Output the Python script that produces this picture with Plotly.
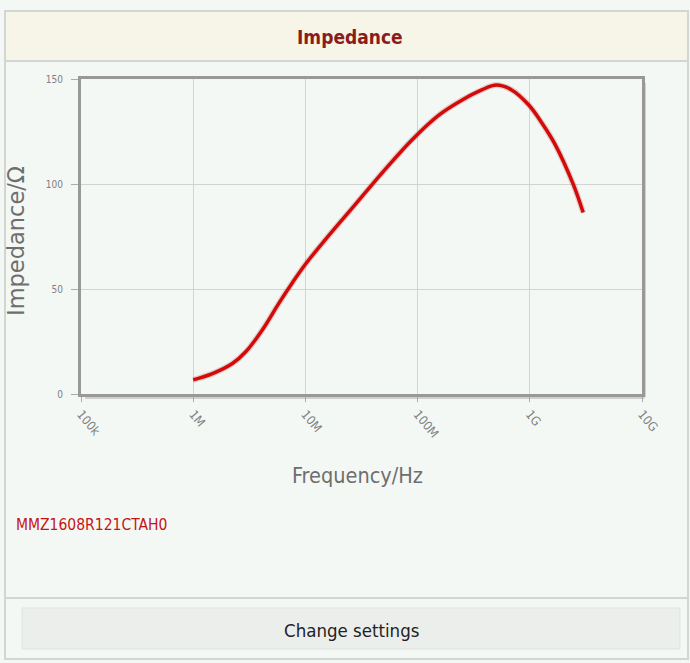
import plotly.graph_objects as go

# ---- data ----
freq_hz = [1.000e6, 1.485e6, 2.236e6, 2.940e6, 4.130e6, 5.812e6, 7.633e6, 1.004e7,
           1.512e7, 2.277e7, 3.429e7, 5.163e7, 8.900e7, 1.537e8, 2.476e8, 3.729e8,
           5.038e8, 6.890e8, 9.838e8, 1.273e9, 1.675e9, 2.436e9, 2.990e9]
impedance_ohm = [6.7, 9.7, 14.5, 20.1, 30.5, 43.3, 52.9, 61.9,
                 73.6, 84.8, 96.0, 107.1, 121.0, 132.7, 139.9, 144.8,
                 147.1, 144.8, 137.5, 129.3, 119.0, 99.9, 86.4]
x_tickvals = [1e5, 1e6, 1e7, 1e8, 1e9, 1e10]
x_ticktext = ["100k", "1M", "10M", "100M", "1G", "10G"]
y_tickvals = [0, 50, 100, 150]
part_name = "MMZ1608R121CTAH0"
chart_title = "Impedance"

# ---- layout geometry (pixels) ----
WIDTH, HEIGHT = 690, 663
L, R, T, B = 81, 48, 79, 269
W = WIDTH - L - R
H = HEIGHT - T - B


def px(x):
    return (x - L) / W


def py(y):
    return (HEIGHT - B - y) / H


PAGE_BG = "#f4f8f4"
PLOT_BG = "#f6f9f5"
COND = "DejaVu Sans Condensed, sans-serif"

fig = go.Figure()

# faint halo under the line
fig.add_trace(go.Scatter(
    x=freq_hz, y=impedance_ohm, mode="lines",
    line=dict(color="rgba(120,0,0,0.16)", width=6, shape="spline", smoothing=1.0),
    hoverinfo="skip", showlegend=False,
))
fig.add_trace(go.Scatter(
    x=freq_hz, y=impedance_ohm, mode="lines",
    line=dict(color="#d40a0a", width=3.5, shape="spline", smoothing=1.0),
    showlegend=False,
))

shapes = []
# page background
shapes.append(dict(type="rect", xref="paper", yref="paper",
                   x0=px(0), x1=px(WIDTH), y0=py(HEIGHT), y1=py(0),
                   line=dict(width=0), fillcolor=PAGE_BG, layer="below"))
# outer panel border
shapes.append(dict(type="rect", xref="paper", yref="paper",
                   x0=px(5), x1=px(688), y0=py(659), y1=py(11),
                   line=dict(color="#d2d6d2", width=2), fillcolor=PAGE_BG, layer="below"))
# header band
shapes.append(dict(type="rect", xref="paper", yref="paper",
                   x0=px(6), x1=px(687), y0=py(61), y1=py(12),
                   line=dict(width=0), fillcolor="#f6f5e7", layer="below"))
shapes.append(dict(type="line", xref="paper", yref="paper",
                   x0=px(6), x1=px(687), y0=py(61), y1=py(61),
                   line=dict(color="#d2d6d2", width=2), layer="below"))
# bottom separator
shapes.append(dict(type="line", xref="paper", yref="paper",
                   x0=px(6), x1=px(687), y0=py(598), y1=py(598),
                   line=dict(color="#d2d6d2", width=2), layer="below"))
# button
shapes.append(dict(type="rect", xref="paper", yref="paper",
                   x0=px(22), x1=px(680), y0=py(649), y1=py(608),
                   line=dict(color="#e0e3e0", width=1), fillcolor="#eceeec", layer="below"))
# plot-frame shadow (right & bottom)
shapes.append(dict(type="line", xref="paper", yref="paper",
                   x0=px(644.5), x1=px(644.5), y0=py(397), y1=py(83),
                   line=dict(color="#cdd0cd", width=3), layer="below"))
shapes.append(dict(type="line", xref="paper", yref="paper",
                   x0=px(85), x1=px(644.5), y0=py(397.5), y1=py(397.5),
                   line=dict(color="#cdd0cd", width=3), layer="below"))

annotations = [
    dict(text="<b>" + chart_title + "</b>", xref="paper", yref="paper",
         x=px(350), y=py(37), showarrow=False, xanchor="center", yanchor="middle",
         font=dict(family=COND, size=19, color="#8b1c1c")),
    dict(text="Frequency/Hz", xref="paper", yref="paper",
         x=px(357), y=py(475), showarrow=False, xanchor="center", yanchor="middle",
         font=dict(family=COND, size=21.5, color="#6e6e6e")),
    dict(text="Impedance/Ω", xref="paper", yref="paper", textangle=-90,
         x=px(16), y=py(241), showarrow=False, xanchor="center", yanchor="middle",
         font=dict(family="DejaVu Sans, sans-serif", size=22.5, color="#6e6e6e")),
    dict(text=part_name, xref="paper", yref="paper",
         x=px(14), y=py(525), showarrow=False, xanchor="left", yanchor="middle",
         font=dict(family=COND, size=15.5, color="#c41414")),
    dict(text="Change settings", xref="paper", yref="paper",
         x=px(351), y=py(630), showarrow=False, xanchor="center", yanchor="middle",
         font=dict(family=COND, size=18.5, color="#222222")),
]

fig.update_layout(
    width=WIDTH, height=HEIGHT,
    margin=dict(l=L, r=R, t=T, b=B, pad=0),
    paper_bgcolor=PAGE_BG,
    plot_bgcolor=PLOT_BG,
    shapes=shapes,
    annotations=annotations,
    showlegend=False,
)
fig.update_xaxes(
    type="log", range=[5, 10],
    tickvals=x_tickvals, ticktext=x_ticktext, tickangle=50,
    showgrid=True, gridcolor="#d2d4d2", gridwidth=1,
    ticks="outside", ticklen=5, tickcolor="#aaaaaa",
    showline=True, linecolor="#999999", linewidth=3, mirror=True,
    tickfont=dict(family=COND, size=12.5, color="#808080"),
    zeroline=False,
)
fig.update_yaxes(
    range=[0, 150], tickvals=y_tickvals,
    showgrid=True, gridcolor="#d2d4d2", gridwidth=1,
    ticks="outside", ticklen=7, tickcolor="#aaaaaa",
    ticklabelstandoff=6,
    showline=True, linecolor="#999999", linewidth=3, mirror=True,
    tickfont=dict(family=COND, size=10, color="#808080"),
    zeroline=False,
)

fig.write_html("out.html", config={"displayModeBar": False},
               post_script="document.body.style.margin='0px';")
